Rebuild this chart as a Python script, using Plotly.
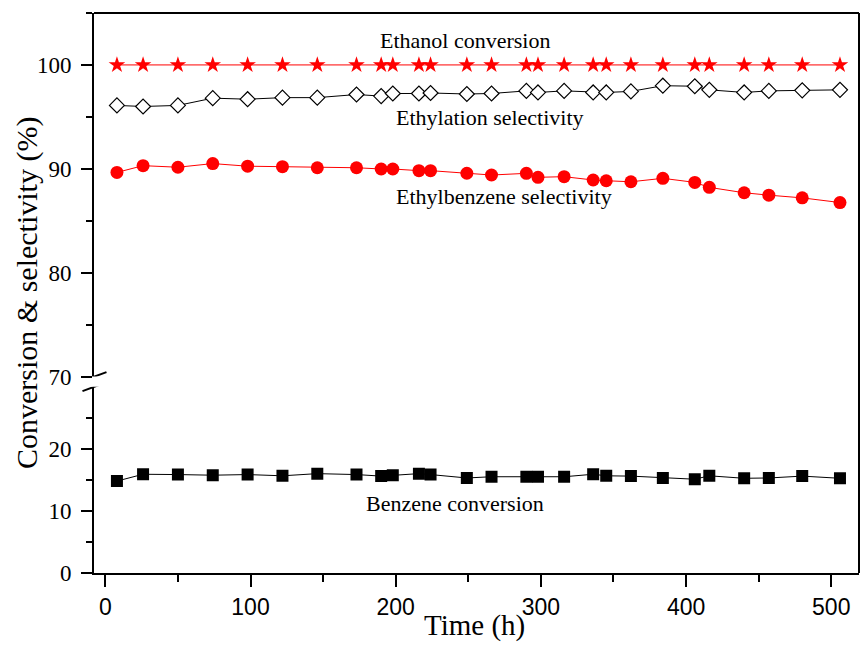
import plotly.graph_objects as go

# Time on stream (h)
time_h = [8, 26, 50, 74, 98, 122, 146, 173, 190, 198, 216, 224, 249, 266,
          290, 298, 316, 336, 345, 362, 384, 406, 416, 440, 457, 480, 506]

# Conversion and selectivity (%)
ethanol_conversion = [100, 100, 100, 100, 100, 100, 100, 100, 100, 100, 100, 100, 100, 100,
                      100, 100, 100, 100, 100, 100, 100, 100, 100, 100, 100, 100, 100]
ethylation_selectivity = [96.1, 96.0, 96.1, 96.8, 96.7, 96.85, 96.85, 97.15, 97.0, 97.25,
                          97.25, 97.3, 97.2, 97.25, 97.5, 97.35, 97.5, 97.35, 97.35, 97.45,
                          98.0, 97.95, 97.6, 97.35, 97.5, 97.55, 97.6]
ethylbenzene_selectivity = [89.65, 90.3, 90.15, 90.5, 90.25, 90.2, 90.1, 90.1, 89.98, 89.98,
                            89.82, 89.82, 89.57, 89.4, 89.56, 89.18, 89.24, 88.92, 88.85, 88.75,
                            89.08, 88.69, 88.21, 87.69, 87.46, 87.2, 86.75]
benzene_conversion = [14.8, 15.9, 15.85, 15.75, 15.85, 15.65, 16.0, 15.85, 15.6, 15.75,
                      16.0, 15.85, 15.3, 15.5, 15.5, 15.5, 15.5, 15.9, 15.65, 15.6,
                      15.3, 15.1, 15.65, 15.25, 15.3, 15.6, 15.25]

x_ticks = [0, 100, 200, 300, 400, 500]
low_ticks = [0, 10, 20]
low_minor = [5, 15, 25]
high_ticks = [70, 80, 90, 100]
high_minor = [75, 85, 95, 105]

SERIF = "Liberation Serif"
SANS = "Liberation Sans"
RED = "#ff0000"

# Page and plot-area geometry (pixels)
W, H = 861, 666
L, R, T, B = 94, 2, 13, 93
pw, ph = W - L - R, H - T - B

fig = go.Figure()

fig.add_trace(go.Scatter(
    x=time_h, y=ethanol_conversion, yaxis="y2", mode="lines+markers",
    line=dict(color=RED, width=1),
    marker=dict(symbol="star", size=12.5, color=RED, line=dict(width=0)),
))
fig.add_trace(go.Scatter(
    x=time_h, y=ethylation_selectivity, yaxis="y2", mode="lines+markers",
    line=dict(color="black", width=1),
    marker=dict(symbol="diamond", size=11.5, color="white", line=dict(color="black", width=1.2)),
))
fig.add_trace(go.Scatter(
    x=time_h, y=ethylbenzene_selectivity, yaxis="y2", mode="lines+markers",
    line=dict(color=RED, width=1),
    marker=dict(symbol="circle", size=13, color=RED, line=dict(width=0)),
))
fig.add_trace(go.Scatter(
    x=time_h, y=benzene_conversion, yaxis="y", mode="lines+markers",
    line=dict(color="black", width=1),
    marker=dict(symbol="square", size=12, color="black", line=dict(width=0)),
))

axis_common = dict(
    showgrid=False, zeroline=False, showline=True, linecolor="black", linewidth=2,
    ticks="outside", tickcolor="black", tickwidth=2,
)

fig.update_layout(
    width=W, height=H,
    margin=dict(l=L, r=R, t=T, b=B),
    paper_bgcolor="white", plot_bgcolor="white",
    showlegend=False,
    xaxis=dict(
        **axis_common, range=[-7.8, 519.1], tickvals=x_ticks, ticklen=12,
        tickfont=dict(family=SANS, size=23, color="black"),
        minor=dict(dtick=50, tick0=0, ticks="outside", ticklen=7, tickwidth=2, tickcolor="black"),
        anchor="y",
    ),
    yaxis=dict(
        **axis_common, domain=[0, 0.3327], range=[0, 30], tickvals=low_ticks, ticklen=11,
        tickfont=dict(family=SERIF, size=23, color="black"),
        minor=dict(tickvals=low_minor, ticks="outside", ticklen=6, tickwidth=2, tickcolor="black"),
        ticklabelstandoff=5,
    ),
    yaxis2=dict(
        **axis_common, domain=[0.3509, 1], range=[70, 105], tickvals=high_ticks, ticklen=11,
        tickfont=dict(family=SERIF, size=23, color="black"),
        minor=dict(tickvals=high_minor, ticks="outside", ticklen=6, tickwidth=2, tickcolor="black"),
        ticklabelstandoff=5, anchor="x",
    ),
)

# Frame: top and right borders
fig.add_shape(type="line", xref="paper", yref="paper", x0=0, x1=1, y0=1, y1=1,
              line=dict(color="black", width=2))
fig.add_shape(type="line", xref="paper", yref="paper", x0=1, x1=1, y0=0, y1=1,
              line=dict(color="black", width=2))

# Axis break marks
for yref, anchor in (("y2", 70), ("y", 30)):
    fig.add_shape(type="line", xref="paper", xsizemode="pixel", xanchor=0,
                  x0=-11.5, x1=12.5, yref=yref, ysizemode="pixel", yanchor=anchor,
                  y0=-4.4, y1=4.4, line=dict(color="black", width=2))

# Series labels
labels = [
    ("Ethanol conversion", 247.7, 102.4, "y2"),
    ("Ethylation selectivity", 264.7, 94.9, "y2"),
    ("Ethylbenzene selectivity", 274.9, 87.3, "y2"),
    ("Benzene conversion", 240.5, 11.2, "y"),
]
for text, lx, ly, yref in labels:
    fig.add_annotation(text=text, x=lx, y=ly, xref="x", yref=yref, showarrow=False,
                       font=dict(family=SERIF, size=22, color="black"),
                       xanchor="center", yanchor="middle")

# Axis titles, placed by pixel position
fig.add_annotation(text="Time (h)", x=(474 - L) / pw, y=(H - B - 626) / ph,
                   xref="paper", yref="paper", xanchor="center", yanchor="middle",
                   showarrow=False, font=dict(family=SERIF, size=29, color="black"))
fig.add_annotation(text="Conversion & selectivity (%)", x=(27 - L) / pw, y=(H - B - 293) / ph,
                   xref="paper", yref="paper", xanchor="center", yanchor="middle",
                   showarrow=False, textangle=-90,
                   font=dict(family=SERIF, size=30, color="black"))

fig.write_html("out.html")
